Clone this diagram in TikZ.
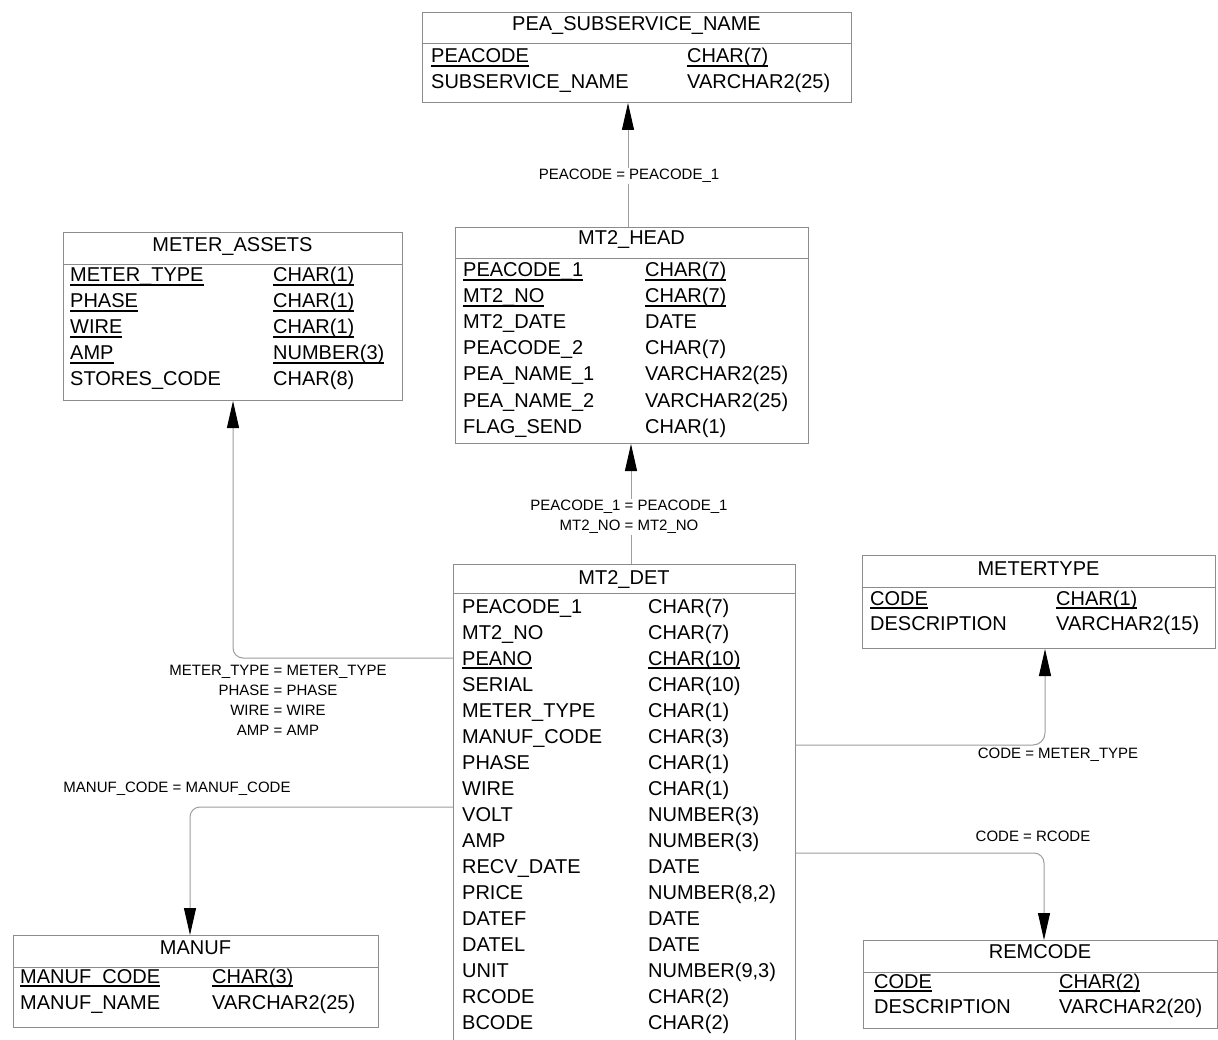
\documentclass[tikz,border=0pt]{standalone}
\usepackage{fontspec}
\setmainfont{Liberation Sans}
\usetikzlibrary{arrows.meta,calc}
\newsavebox\keybox
% key column: underlined at a fixed depth below the baseline
\newcommand\keyul[1]{\sbox\keybox{#1}\rlap{\rule[-4pt]{\wd\keybox}{1.8pt}}\usebox\keybox}
\begin{document}
\begin{tikzpicture}[x=1pt,y=-1pt,
  tbl/.style={draw=black!45, line width=1pt, inner sep=0pt, anchor=north west},
  frame/.style={inner sep=0pt, anchor=north west},
  sepline/.style={draw=black!45, line width=1pt},
  fld/.style={anchor=base west, inner sep=0pt, font=\fontsize{20}{24}\selectfont},
  ttl/.style={anchor=base, inner sep=0pt, font=\fontsize{20}{24}\selectfont},
  lbl/.style={inner sep=1.5pt, align=center, font=\fontsize{15}{20}\selectfont},
  rel/.style={draw=black!38, line width=1pt, -{Triangle[length=27pt,width=12pt,color=black]}}]

\useasboundingbox[fill=white] (0,0) rectangle (1218,1040);

% ---------------- PEA_SUBSERVICE_NAME
\node[tbl, minimum width=429pt, minimum height=90pt] (sub) at (422,12) {};
\draw[sepline] (sub.west |- 0,44) -- (sub.east |- 0,44);
\node[ttl] (sub-t) at (636.5,31) {PEA\_SUBSERVICE\_NAME};
\foreach [count=\i from 0] \f/\t in {\keyul{PEACODE}/\keyul{CHAR(7)}, SUBSERVICE\_NAME/VARCHAR2(25)}
  {\node[fld] (sub-f\i) at (431,63+26*\i) {\f};
   \node[fld] (sub-y\i) at (687,63+26*\i) {\t};}

% ---------------- METER_ASSETS
\node[tbl, minimum width=339pt, minimum height=168pt] (assets) at (63,232) {};
\draw[sepline] (assets.west |- 0,265) -- (assets.east |- 0,265);
\node[ttl] (assets-t) at (232.5,252) {METER\_ASSETS};
\foreach [count=\i from 0] \f/\t in {\keyul{METER\_TYPE}/\keyul{CHAR(1)}, \keyul{PHASE}/\keyul{CHAR(1)},
    \keyul{WIRE}/\keyul{CHAR(1)}, \keyul{AMP}/\keyul{NUMBER(3)}, STORES\_CODE/CHAR(8)}
  {\node[fld] (assets-f\i) at (70,282+26*\i) {\f};
   \node[fld] (assets-y\i) at (273,282+26*\i) {\t};}

% ---------------- MT2_HEAD
\node[tbl, minimum width=353pt, minimum height=216pt] (head) at (455,227) {};
\draw[sepline] (head.west |- 0,259) -- (head.east |- 0,259);
\node[ttl] (head-t) at (631.5,245) {MT2\_HEAD};
\foreach [count=\i from 0] \f/\t in {\keyul{PEACODE\_1}/\keyul{CHAR(7)}, \keyul{MT2\_NO}/\keyul{CHAR(7)},
    MT2\_DATE/DATE, PEACODE\_2/CHAR(7), PEA\_NAME\_1/VARCHAR2(25), PEA\_NAME\_2/VARCHAR2(25), FLAG\_SEND/CHAR(1)}
  {\node[fld] (head-f\i) at (463,277+26*\i) {\f};
   \node[fld] (head-y\i) at (645,277+26*\i) {\t};}

% ---------------- MT2_DET (runs past the bottom edge)
\node[frame, minimum width=342pt, minimum height=480pt] (det) at (453,564) {};
\draw[sepline] (det.south west) -- (det.north west) -- (det.north east) -- (det.south east);
\draw[sepline] (det.west |- 0,593) -- (det.east |- 0,593);
\node[ttl] (det-t) at (624,584) {MT2\_DET};
\foreach [count=\i from 0] \f/\t in {PEACODE\_1/CHAR(7), MT2\_NO/CHAR(7), \keyul{PEANO}/\keyul{CHAR(10)},
    SERIAL/CHAR(10), METER\_TYPE/CHAR(1), MANUF\_CODE/CHAR(3), PHASE/CHAR(1), WIRE/CHAR(1),
    VOLT/NUMBER(3), AMP/NUMBER(3), RECV\_DATE/DATE, PRICE/{NUMBER(8,2)}, DATEF/DATE, DATEL/DATE,
    UNIT/{NUMBER(9,3)}, RCODE/CHAR(2), BCODE/CHAR(2)}
  {\node[fld] (det-f\i) at (462,613+26*\i) {\f};
   \node[fld] (det-y\i) at (648,613+26*\i) {\t};}

% ---------------- METERTYPE
\node[tbl, minimum width=353pt, minimum height=93pt] (mtype) at (862,555) {};
\draw[sepline] (mtype.west |- 0,587) -- (mtype.east |- 0,587);
\node[ttl] (mtype-t) at (1038.5,575) {METERTYPE};
\foreach [count=\i from 0] \f/\t in {\keyul{CODE}/\keyul{CHAR(1)}, DESCRIPTION/VARCHAR2(15)}
  {\node[fld] (mtype-f\i) at (870,605+25*\i) {\f};
   \node[fld] (mtype-y\i) at (1056,605+25*\i) {\t};}

% ---------------- REMCODE
\node[tbl, minimum width=354pt, minimum height=88pt] (rem) at (863,940) {};
\draw[sepline] (rem.west |- 0,972) -- (rem.east |- 0,972);
\node[ttl] (rem-t) at (1040,958) {REMCODE};
\foreach [count=\i from 0] \f/\t in {\keyul{CODE}/\keyul{CHAR(2)}, DESCRIPTION/VARCHAR2(20)}
  {\node[fld] (rem-f\i) at (874,988+25*\i) {\f};
   \node[fld] (rem-y\i) at (1059,988+25*\i) {\t};}

% ---------------- MANUF
\node[tbl, minimum width=365pt, minimum height=92pt] (manuf) at (13,935) {};
\draw[sepline] (manuf.west |- 0,967) -- (manuf.east |- 0,967);
\node[ttl] (manuf-t) at (195.5,954) {MANUF};
\foreach [count=\i from 0] \f/\t in {\keyul{MANUF\_CODE}/\keyul{CHAR(3)}, MANUF\_NAME/VARCHAR2(25)}
  {\node[fld] (manuf-f\i) at (20,983+26*\i) {\f};
   \node[fld] (manuf-y\i) at (212,983+26*\i) {\t};}

% ---------------- relationship routes
\coordinate (x1) at (628,0);
\coordinate (x2) at (631,0);
\coordinate (x3) at (233,0);
\coordinate (y3) at (0,658);
\coordinate (x4) at (190,0);
\coordinate (y4) at (0,807);
\coordinate (x5) at (1045,0);
\coordinate (y5) at (0,745);
\coordinate (x6) at (1044,0);
\coordinate (y6) at (0,853);

\draw[rel] (head.north -| x1) -- (sub.south -| x1);
\draw[rel] (det.north -| x2) -- (head.south -| x2);
\draw[rel, rounded corners=10pt] (det.west |- y3) -- (x3 |- y3) -- (assets.south -| x3);
\draw[rel, rounded corners=10pt] (det.west |- y4) -- (x4 |- y4) -- (manuf.north -| x4);
\draw[rel, rounded corners=12pt] (det.east |- y5) -- (x5 |- y5) -- (mtype.south -| x5);
\draw[rel, rounded corners=10pt] (det.east |- y6) -- (x6 |- y6) -- (rem.north -| x6);

% ---------------- join labels
\node[lbl, fill=white] (j1) at (629,176) {PEACODE = PEACODE\_1};
\node[lbl, fill=white] (j2) at (629,517) {PEACODE\_1 = PEACODE\_1\\MT2\_NO = MT2\_NO};
\node[lbl] (j3) at (278,700) {METER\_TYPE = METER\_TYPE\\PHASE = PHASE\\WIRE = WIRE\\AMP = AMP};
\node[lbl] (j4) at (177,789) {MANUF\_CODE = MANUF\_CODE};
\node[lbl] (j5) at (1058,755) {CODE = METER\_TYPE};
\node[lbl] (j6) at (1033,836) {CODE = RCODE};
\end{tikzpicture}
\end{document}
